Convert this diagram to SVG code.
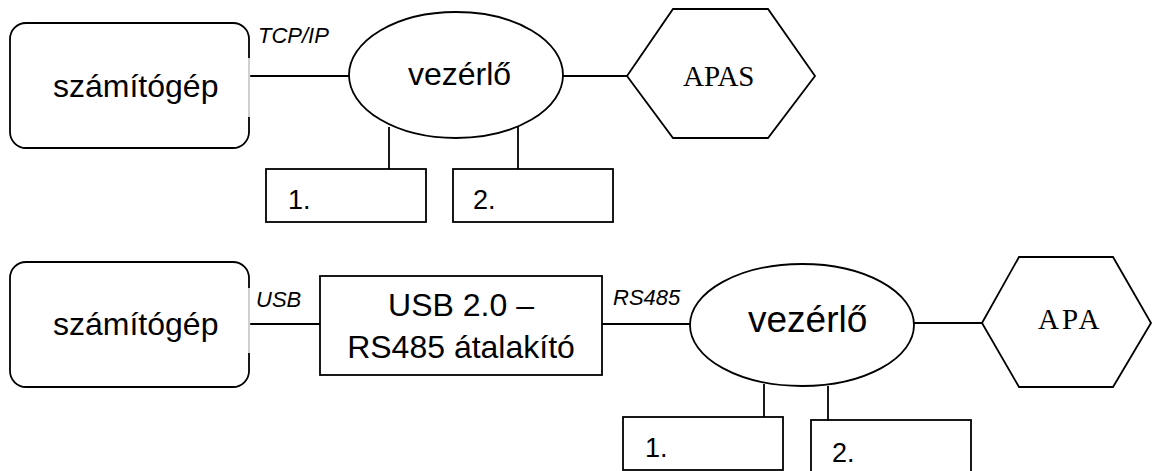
<svg xmlns="http://www.w3.org/2000/svg" width="1155" height="471" viewBox="0 0 1155 471">
<style>
.s{fill:#fff;stroke:#000;stroke-width:1.8}
.c{fill:none;stroke:#000;stroke-width:1.8}
.t{font-family:"Liberation Sans",Arial,sans-serif;fill:#000}
.lbl{font-family:"Liberation Sans",Arial,sans-serif;font-style:italic;font-size:22px;fill:#000}
.serif{font-family:"Liberation Serif","Times New Roman",serif;fill:#000}
.gap{stroke:#fff;stroke-width:2.4}
.thin{stroke:#888;stroke-width:0.8}
</style>
<rect width="1155" height="471" fill="#fff"/>
<g id="connectors">
<line class="c" x1="249" y1="76" x2="349" y2="76"/>
<line class="c" x1="563" y1="76" x2="627" y2="76"/>
<line class="c" x1="389" y1="127" x2="389" y2="169"/>
<line class="c" x1="518" y1="127" x2="518" y2="169"/>
<line class="c" x1="249" y1="324" x2="320" y2="324"/>
<line class="c" x1="602" y1="324" x2="690" y2="324"/>
<line class="c" x1="914" y1="323" x2="982" y2="323"/>
<line class="c" x1="764" y1="384" x2="764" y2="417"/>
<line class="c" x1="828" y1="386" x2="828" y2="420"/>
</g>
<g id="pc1">
<rect class="s" x="10" y="23" width="239" height="125" rx="16"/>
<line class="gap" x1="249" y1="58" x2="249" y2="117"/>
<line class="thin" x1="249" y1="58" x2="249" y2="117"/>
<text class="t" x="53" y="97" font-size="32">számítógép</text>
</g>
<g id="ctrl1">
<ellipse class="s" cx="456" cy="75" rx="107" ry="63"/>
<text class="t" x="408" y="85" font-size="32">vezérlő</text>
</g>
<g id="apas">
<polygon class="s" points="627,76 673,9 768,9 815,76 768,138 673,138"/>
<text class="serif" x="683" y="86" font-size="29">APAS</text>
</g>
<g id="box1a">
<rect class="s" x="266" y="169" width="160" height="53"/>
<text class="t" x="288" y="209" font-size="27">1.</text>
</g>
<g id="box2a">
<rect class="s" x="453" y="169" width="160" height="53"/>
<text class="t" x="473" y="209" font-size="27">2.</text>
</g>
<g id="lbl-tcp"><text class="lbl" x="258" y="43">TCP/IP</text></g>
<g id="pc2">
<rect class="s" x="10" y="262" width="239" height="125" rx="16"/>
<line class="gap" x1="249" y1="288" x2="249" y2="353"/>
<line class="thin" x1="249" y1="288" x2="249" y2="353"/>
<text class="t" x="53" y="335" font-size="32">számítógép</text>
</g>
<g id="conv">
<rect class="s" x="320" y="276" width="282" height="99"/>
<text class="t" x="461" y="316" font-size="32" text-anchor="middle">USB 2.0 –</text>
<text class="t" x="461" y="358" font-size="32" text-anchor="middle">RS485 átalakító</text>
</g>
<g id="ctrl2">
<ellipse class="s" cx="802" cy="325" rx="112" ry="61"/>
<text class="t" x="748" y="332" font-size="37">vezérlő</text>
</g>
<g id="apa">
<polygon class="s" points="982,323 1019,257 1113,257 1151,323 1113,387 1019,387"/>
<text class="serif" x="1038" y="329" font-size="29" letter-spacing="3">APA</text>
</g>
<g id="box1b">
<rect class="s" x="623" y="417" width="160" height="53"/>
<text class="t" x="645" y="457" font-size="27">1.</text>
</g>
<g id="box2b">
<rect class="s" x="811" y="420" width="160" height="60"/>
<text class="t" x="832" y="462" font-size="27">2.</text>
</g>
<g id="lbl-usb"><text class="lbl" x="256" y="307">USB</text></g>
<g id="lbl-rs"><text class="lbl" x="613" y="305">RS485</text></g>
</svg>
